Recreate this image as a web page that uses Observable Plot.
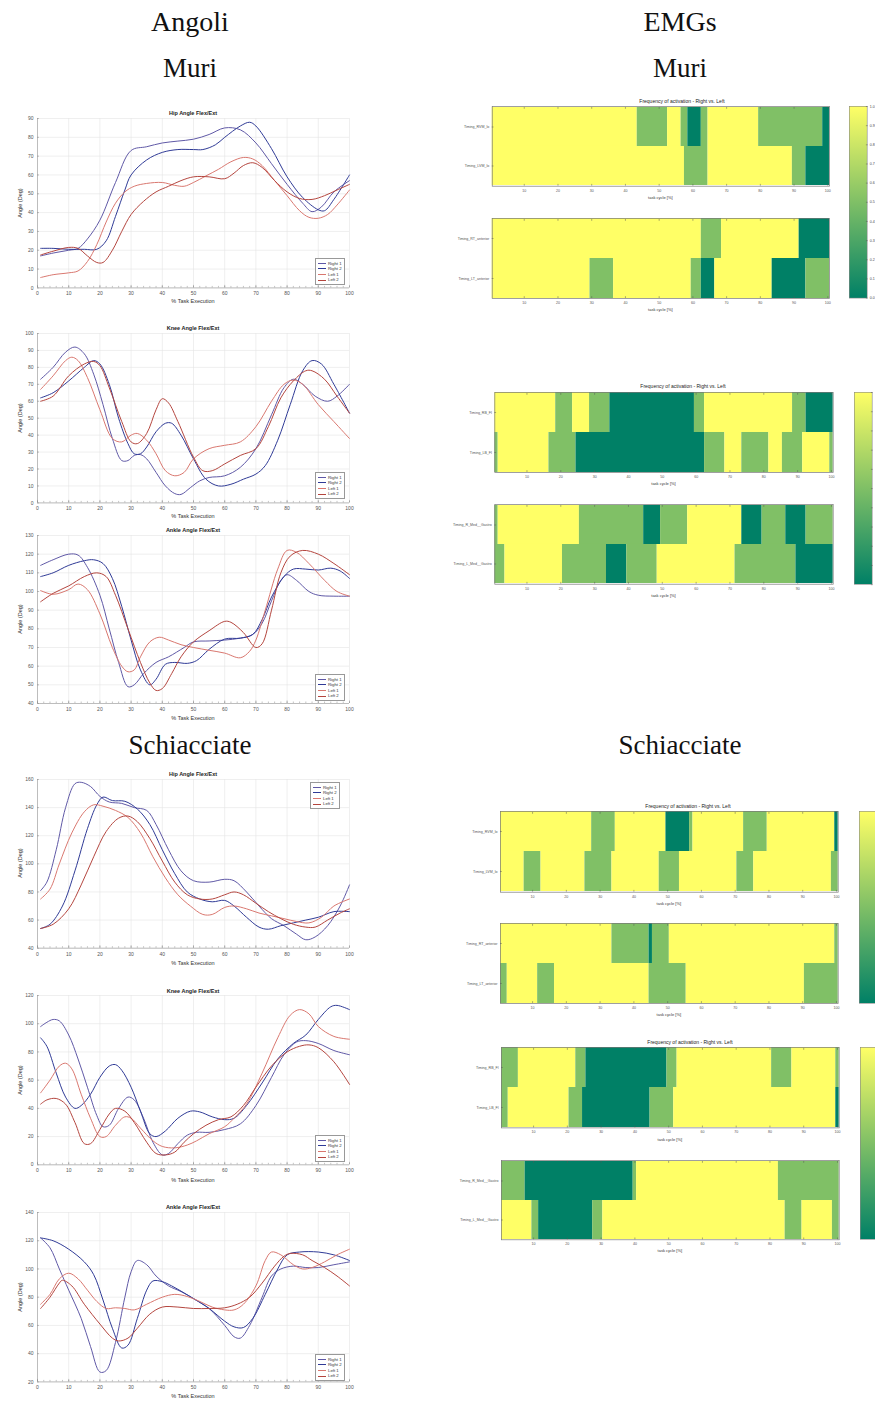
<!DOCTYPE html>
<html><head><meta charset="utf-8">
<script src="https://cdn.jsdelivr.net/npm/d3@7"></script>
<script src="https://cdn.jsdelivr.net/npm/@observablehq/plot@0.6"></script>
<style>
body{margin:0;background:#fff}
#root{position:relative;width:875px;height:1403px;overflow:hidden;background:#fff;font-family:"Liberation Sans",Arial,sans-serif}
svg{overflow:visible}
</style></head>
<body><div id="root"></div>
<script>
// ---------------- DATA ----------------
const seriesNames = ["Right 1","Right 2","Left 1","Left 2"];
const lineColors = ["#5f58a6","#2f3a96","#d9776f","#b4453e"];
const xTicks = [0,10,20,30,40,50,60,70,80,90,100];
const xMinorTicks = [0,2,4,6,8,10,12,14,16,18,20,22,24,26,28,30,32,34,36,38,40,42,44,46,48,50,52,54,56,58,60,62,64,66,68,70,72,74,76,78,80,82,84,86,88,90,92,94,96,98,100];

// Muri - Hip
const hipMuriR1 = [[1,17],[5,18.5],[10,20],[13,21],[16,26],[20,36],[25,56],[30,73],[35,75],[40,77],[45,78],[50,79],[55,81.5],[60,85],[65,84],[70,77],[75,66],[80,55],[85,45],[88,40.5],[91,43],[95,51],[100,57]];
const hipMuriR2 = [[1,21],[5,21],[10,20.5],[15,20.5],[19,20.5],[22,25],[25,38],[28,52],[30,60],[35,68],[40,72],[45,73.5],[50,73.5],[53,73.5],[57,76],[60,80],[65,86],[68,88],[70,86],[75,74],[80,59],[85,48],[90,41.5],[92,41],[95,47],[100,60]];
const hipMuriL1 = [[1,5.5],[5,7],[10,8],[13,9],[16,14],[19,23],[22,35],[25,45],[28,51],[31,54],[35,55.5],[40,56],[44,54.5],[47,54],[50,56],[54,59.5],[58,63],[62,67],[66,69.3],[69,68.5],[72,65],[76,57],[80,49],[84,41],[87,37.5],[90,37],[93,39],[96,44],[100,52]];
const hipMuriL2 = [[1,17.5],[5,19.5],[10,21.5],[13,21],[16,17],[19,13.5],[21,13.5],[24,20],[27,30],[30,39],[34,46],[38,51],[42,54],[46,57],[50,59],[55,59],[60,58],[63,61],[66,65],[69,66.5],[72,64],[76,57],[80,51],[84,47.5],[88,47],[92,49],[96,52],[100,55]];
const hipMuriYTicks = [0,10,20,30,40,50,60,70,80,90];

// Muri - Knee
const kneeMuriR1 = [[1,73],[5,80],[9,89],[12,92],[15,88],[18,76],[21,58],[24,38],[27,25],[29,25],[31,28],[33,28.5],[35,26],[38,18],[41,10],[44,5.5],[46,5],[49,9],[52,13],[55,15],[60,16],[65,21],[70,32],[75,52],[79,68],[82,73],[85,70],[89,63],[93,60],[96,63],[100,70]];
const kneeMuriR2 = [[1,62],[5,65],[10,72],[15,80],[18,84],[20,82],[23,70],[26,50],[29,35],[31,29],[33,29],[35,33],[38,42],[41,47],[43,47],[46,40],[50,26],[54,14],[58,10],[62,11],[66,14],[70,17],[73,22],[77,37],[81,58],[85,78],[88,84],[91,82],[95,70],[100,53]];
const kneeMuriL1 = [[1,67],[5,75],[9,84],[11,86],[13,84],[16,74],[20,55],[24,38],[27,36],[30,40],[32,41],[35,37],[38,29],[41,19],[44,16],[47,18],[50,26],[55,32],[60,34],[65,36],[70,45],[75,60],[79,70],[82,72.5],[85,70],[90,58],[95,48],[100,38]];
const kneeMuriL2 = [[1,60],[5,63],[10,75],[15,82],[18,83.5],[20,81],[23,68],[27,48],[30,36],[32,35],[35,41],[38,55],[40,61.5],[42,59],[45,48],[50,27],[53,19],[56,19],[60,23],[65,28],[70,32],[74,45],[78,62],[82,72],[86,78],[88,78],[92,73],[96,63],[100,53]];
const kneeMuriYTicks = [0,10,20,30,40,50,60,70,80,90,100];

// Muri - Ankle
const ankleMuriR1 = [[1,114],[5,117],[10,120],[13,119.5],[16,113],[20,98],[23,80],[26,62],[29,49],[31,50],[34,56],[38,62],[42,65],[47,70],[50,73],[55,73.5],[60,74],[65,75],[69,77],[72,83],[75,95],[78,106],[80,109],[83,106],[87,100],[90,98],[95,97.5],[100,97.5]];
const ankleMuriR2 = [[1,108],[5,110],[10,114],[15,116.5],[18,117],[21,115],[24,107],[27,92],[30,74],[33,58],[36,50],[38,53],[41,61],[44,62],[48,61.5],[51,63],[55,69],[60,74.5],[65,75],[69,77],[72,85],[75,97],[79,108],[82,112],[86,112],[90,111.5],[94,112.5],[97,111],[100,107]];
const ankleMuriL1 = [[1,100.5],[5,98.5],[10,101],[13,104],[16,101],[20,88],[24,70],[27,60],[29,57],[31,58],[33,65],[36,73],[39,75.5],[42,74],[46,71.5],[50,70],[55,68.5],[60,67],[65,64.5],[68,68],[70,74],[73,90],[77,112],[80,122],[83,121],[87,115],[92,106],[96,100],[100,97.5]];
const ankleMuriL2 = [[1,94.5],[5,99],[10,103],[15,108],[19,110],[22,108],[25,98],[29,80],[33,62],[36,51],[38,47],[40,48],[43,56],[46,65],[50,73],[55,79],[60,84],[62,83.5],[66,78],[70,70],[72,72],[75,90],[78,110],[81,119],[85,122],[90,120],[95,115],[100,109]];
const ankleMuriYTicks = [40,50,60,70,80,90,100,110,120,130];

// Schiacciate - Hip
const hipSchR1 = [[1,81],[3,87],[6,110],[9,140],[12,157],[14,158],[17,155],[20,148],[23,144],[27,143],[31,140],[35,138],[38,128],[42,110],[46,95],[50,88],[55,87],[60,89],[63,88],[67,80],[71,70],[75,61],[79,56],[83,50],[86,46],[89,48],[93,56],[97,70],[100,85]];
const hipSchR2 = [[1,54],[4,57],[8,70],[12,95],[16,125],[19,142],[21,147.5],[24,145],[28,144.5],[32,139],[36,128],[40,110],[44,93],[48,80],[52,75],[56,73],[60,74],[63,70],[67,62],[71,55],[74,53.5],[78,56],[82,58],[86,60],[90,62],[95,66],[100,66]];
const hipSchL1 = [[1,75],[4,82],[7,100],[11,122],[15,137],[18,142],[21,141],[25,138],[29,133],[33,122],[37,105],[41,90],[45,78],[49,70],[53,64],[56,64],[60,69],[63,70],[67,68],[71,65],[75,63],[79,61],[83,59],[87,58],[91,62],[95,70],[100,75]];
const hipSchL2 = [[1,54],[5,57],[10,68],[14,85],[18,105],[22,123],[26,132.5],[29,134],[32,130],[36,118],[40,102],[44,87],[48,78],[52,75],[56,75],[60,78],[63,80],[66,78],[70,72],[74,66],[78,61],[82,57],[86,55],[89,55],[93,60],[97,65],[100,68]];
const hipSchYTicks = [40,60,80,100,120,140,160];

// Schiacciate - Knee
const kneeSchR1 = [[1,98],[3,101],[5,103],[7,102],[10,92],[13,75],[16,55],[19,35],[21,27],[23,28],[26,40],[29,48],[31,46],[34,33],[37,16],[40,7],[42,8],[45,15],[48,21],[51,23],[55,23],[60,25],[65,29],[70,42],[75,62],[79,78],[83,87],[86,88],[90,86],[95,81],[100,78]];
const kneeSchR2 = [[1,90],[3,84],[6,65],[9,48],[12,40],[14,42],[17,50],[20,62],[23,70],[25,71],[27,67],[30,55],[33,38],[36,22],[38,20],[41,24],[45,33],[49,38],[52,37.5],[56,34],[60,32],[63,33],[67,42],[72,58],[77,75],[82,86],[86,92],[90,103],[94,112],[96,113],[100,110]];
const kneeSchL1 = [[1,51],[4,60],[7,70],[9,72],[11,68],[14,50],[17,33],[20,20],[22,20],[25,28],[28,34],[30,33],[33,26],[37,17],[40,13],[44,12],[48,14],[51,17],[55,22],[60,27],[63,33],[67,43],[72,65],[77,90],[81,106],[84,110],[87,107],[90,98],[95,91],[100,89]];
const kneeSchL2 = [[1,43],[3,46],[6,47],[9,43],[12,30],[15,15],[17,15],[20,25],[23,36],[25,40],[28,38],[31,30],[35,16],[38,8],[41,7],[44,9],[47,16],[50,22],[54,28],[58,32],[62,34],[66,42],[70,55],[75,70],[80,80],[84,84],[87,85],[90,83],[95,73],[100,57]];
const kneeSchYTicks = [0,20,40,60,80,100,120];

// Schiacciate - Ankle
const ankleSchR1 = [[1,122],[4,115],[7,100],[10,85],[14,65],[17,45],[20,27],[22,28],[25,48],[28,80],[30,98],[32,106],[35,103],[38,95],[42,88],[46,84],[50,79],[55,72],[60,60],[63,52],[65,51],[68,60],[72,80],[75,95],[78,100],[82,102],[86,101],[90,101],[95,103],[100,105]];
const ankleSchR2 = [[1,122],[5,120],[10,114],[15,105],[18,96],[21,78],[24,58],[27,44],[29,46],[32,65],[35,85],[37,91.5],[40,91],[43,88],[47,83],[50,79],[55,72],[60,63],[63,59],[66,58.5],[69,65],[73,82],[77,100],[80,110],[84,112],[90,112],[95,110],[100,106]];
const ankleSchL1 = [[1,75],[4,82],[7,93],[10,97],[13,93],[16,85],[19,77],[22,72],[25,72.5],[28,72],[31,71],[35,75],[40,80],[44,82],[48,80.5],[52,77],[56,73],[60,71],[63,71],[66,75],[70,88],[73,106],[75,112],[78,110],[82,103],[85,100],[88,101],[92,105],[96,110],[100,114]];
const ankleSchL2 = [[1,72],[4,80],[7,90],[8,92],[11,88],[15,75],[20,61],[24,51],[26,49],[29,51],[32,58],[36,68],[40,73],[45,73],[50,72],[55,72],[60,72.5],[64,75],[68,80],[72,90],[76,102],[79,109],[81,111],[85,110],[88,106],[92,101],[96,95],[100,88]];
const ankleSchYTicks = [20,40,60,80,100,120,140];

// EMG heatmaps: runs [fromCell, toCell, frequency]
const hmXTicks = [10,20,30,40,50,60,70,80,90,100];
const cbTicks = [0,0.1,0.2,0.3,0.4,0.5,0.6,0.7,0.8,0.9,1];
const summerColors = ["#008066","#ffff66"];

const labelsA1 = ["Timing_RVM_lo","Timing_LVM_lo"];
const labelsA2 = ["Timing_RT_anterior","Timing_LT_anterior"];
const labelsB1 = ["Timing_RB_Fl","Timing_LB_Fl"];
const labelsB2 = ["Timing_R_Med__Gastro","Timing_L_Med__Gastro"];

const muriA1R = [[1,43,1],[44,52,.5],[53,56,1],[57,58,.5],[59,62,0],[63,64,.5],[65,79,1],[80,98,.5],[99,100,0]];
const muriA1L = [[1,57,1],[58,64,.5],[65,89,1],[90,93,.5],[94,100,0]];
const muriA2R = [[1,62,1],[63,68,.5],[69,91,1],[92,100,0]];
const muriA2L = [[1,29,1],[30,36,.5],[37,59,1],[60,62,.5],[63,66,0],[67,83,1],[84,93,0],[94,100,.5]];
const muriB1R = [[1,18,1],[19,23,.5],[24,28,1],[29,34,.5],[35,59,0],[60,62,.5],[63,88,1],[89,92,.5],[93,100,0]];
const muriB1L = [[1,1,.5],[2,16,1],[17,24,.5],[25,62,0],[63,68,.5],[69,73,1],[74,81,.5],[82,85,1],[86,91,.5],[92,99,1],[100,100,.5]];
const muriB2R = [[1,1,.5],[2,25,1],[26,44,.5],[45,49,0],[50,57,.5],[58,73,1],[74,79,0],[80,86,.5],[87,92,0],[93,100,.5]];
const muriB2L = [[1,3,.5],[4,20,1],[21,33,.5],[34,39,0],[40,48,.5],[49,71,1],[72,89,.5],[90,100,0]];

const schA1R = [[1,27,1],[28,34,.5],[35,49,1],[50,56,0],[57,57,.5],[58,72,1],[73,79,.5],[80,99,1],[100,100,0]];
const schA1L = [[1,7,1],[8,12,.5],[13,25,1],[26,33,.5],[34,47,1],[48,53,.5],[54,70,1],[71,75,.5],[76,98,1],[99,100,.5]];
const schA2R = [[1,33,1],[34,44,.5],[45,45,0],[46,50,.5],[51,99,1],[100,100,.5]];
const schA2L = [[1,2,.5],[3,11,1],[12,16,.5],[17,44,1],[45,55,.5],[56,90,1],[91,100,.5]];
const schB1R = [[1,5,.5],[6,22,1],[23,25,.5],[26,49,0],[50,52,.5],[53,80,1],[81,86,.5],[87,99,1],[100,100,.5]];
const schB1L = [[1,2,.5],[3,20,1],[21,24,.5],[25,44,0],[45,51,.5],[52,99,1],[100,100,0]];
const schB2R = [[1,7,.5],[8,39,0],[40,40,.5],[41,82,1],[83,100,.5]];
const schB2L = [[1,9,1],[10,11,.5],[12,27,0],[28,30,.5],[31,84,1],[85,89,.5],[90,98,1],[99,100,.5]];

// ---------------- LAYOUT ----------------
const root = document.getElementById("root");
function txt(s, x, y, css) {
  const d = document.createElement("div");
  d.textContent = s;
  d.style.cssText = `position:absolute;left:${x}px;top:${y}px;transform:translate(-50%,-50%);white-space:nowrap;line-height:1;${css||""}`;
  root.appendChild(d);
  return d;
}
function place(el, x, y) {
  el.style.position = "absolute"; el.style.left = x + "px"; el.style.top = y + "px";
  root.appendChild(el);
}

// big headings
const serif = "font-family:'Liberation Serif',serif;color:#111;";
txt("Angoli", 190, 22, serif + "font-size:28px");
txt("EMGs", 680, 22, serif + "font-size:28px");
txt("Muri", 190, 68, serif + "font-size:27px");
txt("Muri", 680, 68, serif + "font-size:27px");
txt("Schiacciate", 190, 745, serif + "font-size:27px");
txt("Schiacciate", 680, 745, serif + "font-size:27px");

const leftCharts = [
  {title:"Hip Angle Flex/Ext", s:[hipMuriR1,hipMuriR2,hipMuriL1,hipMuriL2], yDomain:[0,90], yTicks:hipMuriYTicks, top:118.3, bottom:287.7, titleY:114.3, xlabY:302, legend:{x:315,y:258}},
  {title:"Knee Angle Flex/Ext", s:[kneeMuriR1,kneeMuriR2,kneeMuriL1,kneeMuriL2], yDomain:[0,100], yTicks:kneeMuriYTicks, top:333.3, bottom:502.7, titleY:329.3, xlabY:517, legend:{x:315,y:472}},
  {title:"Ankle Angle Flex/Ext", s:[ankleMuriR1,ankleMuriR2,ankleMuriL1,ankleMuriL2], yDomain:[40,130], yTicks:ankleMuriYTicks, top:534.7, bottom:702.7, titleY:530.7, xlabY:719, legend:{x:315,y:674}},
  {title:"Hip Angle Flex/Ext", s:[hipSchR1,hipSchR2,hipSchL1,hipSchL2], yDomain:[40,160], yTicks:hipSchYTicks, top:779, bottom:947.7, titleY:775, xlabY:964, legend:{x:310,y:782}},
  {title:"Knee Angle Flex/Ext", s:[kneeSchR1,kneeSchR2,kneeSchL1,kneeSchL2], yDomain:[0,120], yTicks:kneeSchYTicks, top:995, bottom:1164.3, titleY:991.7, xlabY:1181, legend:{x:315,y:1135}},
  {title:"Ankle Angle Flex/Ext", s:[ankleSchR1,ankleSchR2,ankleSchL1,ankleSchL2], yDomain:[20,140], yTicks:ankleSchYTicks, top:1212.3, bottom:1381.7, titleY:1208.3, xlabY:1397, legend:{x:315,y:1354}}
];

const tickStyle = {fontFamily:"'Liberation Sans',Arial,sans-serif", fontSize:"5px", color:"#555", background:"transparent", overflow:"visible"};

for (const c of leftCharts) {
  const data = c.s.flatMap((pts, i) => pts.map(([x, y]) => ({x, y, name: seriesNames[i]})));
  const mt = 4, mb = 10;
  const svg = Plot.plot({
    width: 360, height: (c.bottom - c.top) + mt + mb,
    marginLeft: 37, marginRight: 11, marginTop: mt, marginBottom: mb,
    x: {domain: [0, 100]},
    y: {domain: c.yDomain},
    color: {domain: seriesNames, range: lineColors},
    style: tickStyle,
    marks: [
      Plot.gridX(xTicks, {stroke: "#e4e4e4", strokeOpacity: 1, strokeWidth: 0.6}),
      Plot.gridY(c.yTicks, {stroke: "#e4e4e4", strokeOpacity: 1, strokeWidth: 0.6}),
      Plot.ruleX([0], {stroke: "#9a9a9a", strokeWidth: 0.6}),
      Plot.ruleY([c.yDomain[0]], {stroke: "#9a9a9a", strokeWidth: 0.6}),
      Plot.axisX({ticks: xTicks, tickSize: 0, tickPadding: 4, label: null, fill: "#555"}),
      Plot.axisX({ticks: xMinorTicks, tickSize: -1.5, tickFormat: () => "", label: null, stroke: "#888", strokeWidth: 0.5}),
      Plot.axisX({ticks: xTicks, tickSize: -2.5, tickFormat: () => "", label: null, stroke: "#888", strokeWidth: 0.5}),
      Plot.axisY({ticks: c.yTicks, tickSize: 0, tickPadding: 4, label: null, fill: "#555"}),
      Plot.axisY({ticks: c.yTicks, tickSize: -2, tickFormat: () => "", label: null, stroke: "#888", strokeWidth: 0.5}),
      Plot.line(data, {x: "x", y: "y", z: "name", stroke: "name", curve: "catmull-rom", strokeWidth: 1})
    ]
  });
  place(svg, 0, c.top - mt);
  txt(c.title, 193, c.titleY, "font-size:5.5px;font-weight:bold;color:#222");
  txt("% Task Execution", 193, c.xlabY, "font-size:5.5px;color:#333");
  txt("Angle (Deg)", 21, (c.top + c.bottom) / 2, "font-size:5.5px;color:#333;transform:translate(-50%,-50%) rotate(-90deg)");
  const lg = document.createElement("div");
  lg.style.cssText = `position:absolute;left:${c.legend.x}px;top:${c.legend.y}px;width:28px;padding:1.5px 0;background:#fff;border:0.6px solid #999;font-size:4.3px;color:#333;line-height:5.6px`;
  seriesNames.forEach((n, i) => {
    const row = document.createElement("div");
    row.style.cssText = "display:flex;align-items:center;height:5.6px";
    const sw = document.createElement("span");
    sw.style.cssText = `display:inline-block;width:8px;height:0;border-top:0.9px solid ${lineColors[i]};margin:0 2px 0 2px`;
    const t = document.createElement("span"); t.textContent = n;
    row.appendChild(sw); row.appendChild(t); lg.appendChild(row);
  });
  root.appendChild(lg);
}

// ---------------- HEATMAPS ----------------
const panels = [
  {titleX:682, titleY:101, left:491.7, right:829, subs:[
     {labels:labelsA1, rows:[muriA1R, muriA1L], top:106, bottom:185.7},
     {labels:labelsA2, rows:[muriA2R, muriA2L], top:217.7, bottom:297.7}],
   cb:{x:849, w:17.7, top:106, bottom:297.7, labels:true}},
  {titleX:683, titleY:386, left:494.3, right:832.7, subs:[
     {labels:labelsB1, rows:[muriB1R, muriB1L], top:391.7, bottom:471.7},
     {labels:labelsB2, rows:[muriB2R, muriB2L], top:504.3, bottom:584}],
   cb:{x:854, w:17.7, top:391.7, bottom:584, labels:false}},
  {titleX:688, titleY:806, left:500, right:837.7, subs:[
     {labels:labelsA1, rows:[schA1R, schA1L], top:811, bottom:891.7},
     {labels:labelsA2, rows:[schA2R, schA2L], top:923.3, bottom:1003.3}],
   cb:{x:859.3, w:17.7, top:811, bottom:1003.3, labels:false}},
  {titleX:690, titleY:1041.7, left:501, right:838.7, subs:[
     {labels:labelsB1, rows:[schB1R, schB1L], top:1047.3, bottom:1127.7},
     {labels:labelsB2, rows:[schB2R, schB2L], top:1160, bottom:1239.3}],
   cb:{x:860, w:17.7, top:1047.3, bottom:1239.3, labels:false}}
];

const hmStyle = {fontFamily:"'Liberation Sans',Arial,sans-serif", fontSize:"3.6px", color:"#555", background:"transparent", overflow:"visible"};
const svgLeft = 425;
for (const p of panels) {
  txt("Frequency of activation - Right vs. Left", p.titleX, p.titleY, "font-size:5px;color:#222");
  for (const s of p.subs) {
    const data = s.rows.flatMap((runs, i) => runs.map(([a, b, v]) => ({row: s.labels[i], a, b, v})));
    const mt = 3, mb = 9, ml = p.left - svgLeft, mr = 4;
    const svg = Plot.plot({
      width: (p.right - svgLeft) + mr, height: (s.bottom - s.top) + mt + mb,
      marginLeft: ml, marginRight: mr, marginTop: mt, marginBottom: mb,
      x: {domain: [0.5, 100.5]},
      y: {domain: s.labels, type: "band", padding: 0},
      color: {type: "linear", domain: [0, 1], range: summerColors},
      style: hmStyle,
      marks: [
        Plot.barX(data, {x1: d => d.a - 0.5, x2: d => d.b + 0.5, y: "row", fill: "v", inset: 0}),
        Plot.frame({stroke: "#777", strokeWidth: 0.7}),
        Plot.axisX({ticks: hmXTicks, tickSize: 0, tickPadding: 3, label: null, fill: "#555"}),
        Plot.axisX({ticks: hmXTicks, tickSize: -1.8, tickFormat: () => "", label: null, stroke: "#555", strokeWidth: 0.5}),
        Plot.axisX({ticks: hmXTicks, anchor: "top", tickSize: -1.8, tickFormat: () => "", label: null, stroke: "#555", strokeWidth: 0.5}),
        Plot.axisY({tickSize: 0, tickPadding: 3, label: null, fill: "#555"}),
        Plot.axisY({tickSize: -1.8, tickFormat: () => "", label: null, stroke: "#555", strokeWidth: 0.5})
      ]
    });
    place(svg, svgLeft, s.top - mt);
    txt("task cycle [%]", (p.left + p.right) / 2, s.bottom + 12, "font-size:4px;color:#333");
  }
  const cbH = p.cb.bottom - p.cb.top;
  const bar = document.createElement("div");
  bar.style.cssText = `position:absolute;left:${p.cb.x}px;top:${p.cb.top}px;width:${p.cb.w}px;height:${cbH}px;background:linear-gradient(to top, ${summerColors[0]}, ${summerColors[1]})`;
  root.appendChild(bar);
  const cbMarks = [
    Plot.frame({stroke: "#888", strokeWidth: 0.6}),
    Plot.axisY({ticks: cbTicks, anchor: "right", tickSize: -1.8, tickFormat: () => "", label: null, stroke: "#555", strokeWidth: 0.5})
  ];
  if (p.cb.labels) cbMarks.push(Plot.axisY({ticks: cbTicks, anchor: "right", tickSize: 0, tickPadding: 2.5, label: null, fill: "#444"}));
  const cb = Plot.plot({
    width: p.cb.w + 8, height: cbH + 6,
    marginLeft: 0, marginRight: 8, marginTop: 3, marginBottom: 3,
    y: {domain: [0, 1]},
    style: hmStyle,
    marks: cbMarks
  });
  place(cb, p.cb.x, p.cb.top - 3);
}
</script>
</body></html>
